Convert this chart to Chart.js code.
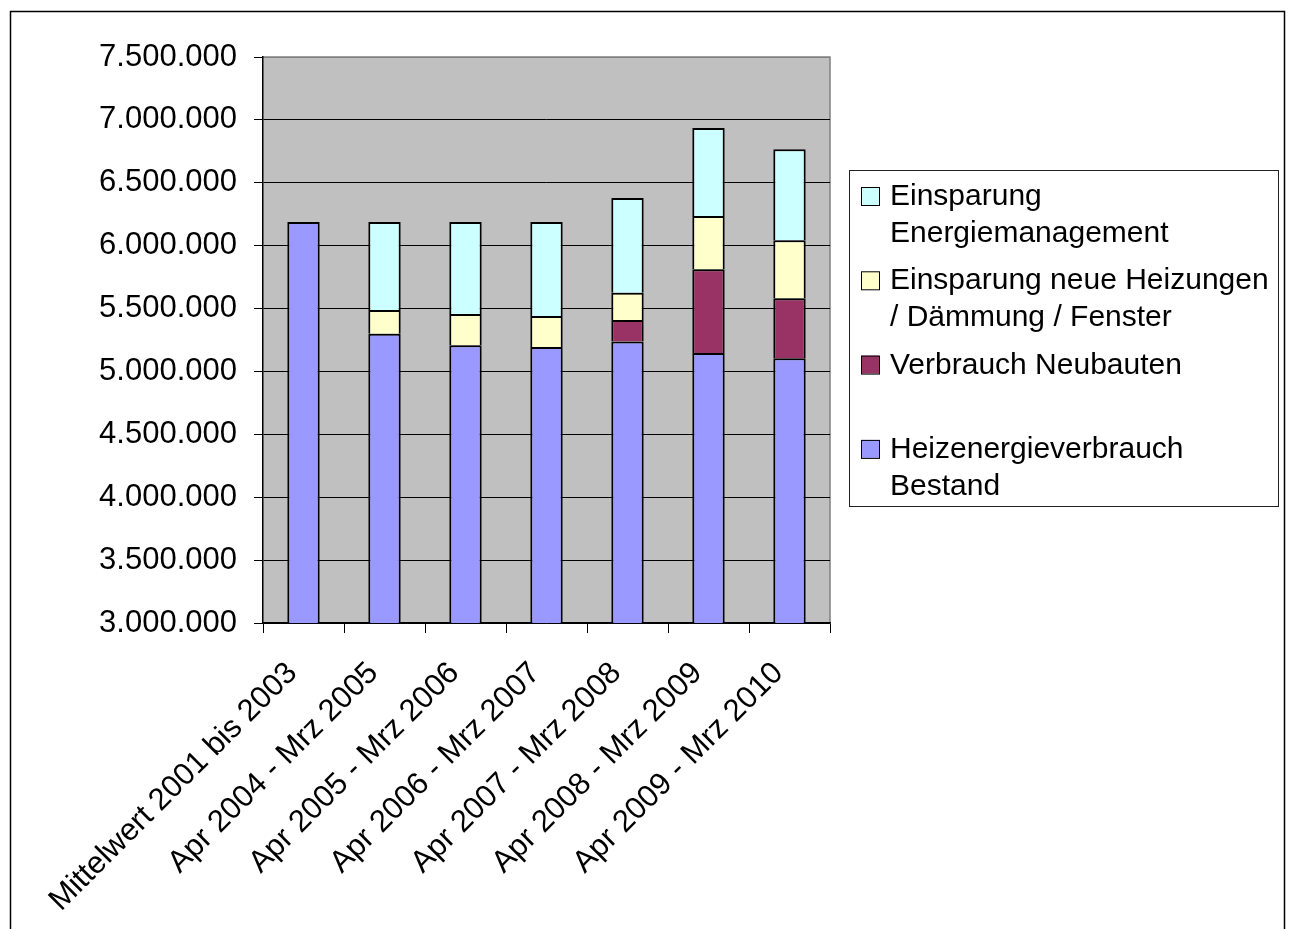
<!DOCTYPE html>
<html>
<head>
<meta charset="utf-8">
<title>Heizenergieverbrauch</title>
<script src="https://cdn.jsdelivr.net/npm/chart.js@4.4.0/dist/chart.umd.min.js"></script>
<style>
  html, body { margin: 0; padding: 0; background: #fff; }
  #wrap { position: relative; width: 1290px; height: 929px; }
</style>
</head>
<body>
<div id="wrap"><canvas id="heizChart" width="1290" height="929"></canvas></div>
<script>
// Zeiträume (x-Achse)
const categories = [
  'Mittelwert 2001 bis 2003',
  'Apr 2004 - Mrz 2005',
  'Apr 2005 - Mrz 2006',
  'Apr 2006 - Mrz 2007',
  'Apr 2007 - Mrz 2008',
  'Apr 2008 - Mrz 2009',
  'Apr 2009 - Mrz 2010'
];

// Werte je Reihe (kWh), von unten nach oben gestapelt
const bestand           = [6188000, 5300000, 5209000, 5194000, 5238000, 5146000, 5104000];
const neubauten         = [null, null, null, null, 171000, 667000, 477000];
const heizungen         = [null, 189000, 248000, 247000, 216000, 422000, 463000];
const energiemanagement = [null, 699000, 731000, 747000, 753000, 701000, 722000];

// Legendentexte (mehrzeilig wie im Original)
const labelBestand    = ['Heizenergieverbrauch', 'Bestand'];
const labelNeubauten  = ['Verbrauch Neubauten'];
const labelHeizungen  = ['Einsparung neue Heizungen', '/ Dämmung / Fenster'];
const labelManagement = ['Einsparung', 'Energiemanagement'];

// y-Achse
const yMin  = 3000000;
const yMax  = 7500000;
const yStep = 500000;

const FONT = "'Liberation Sans', Arial, sans-serif";
const FONT_SIZE = 30;
const AXIS_FONT_SIZE = 31;

function formatDots(v) {
  return String(v).replace(/\B(?=(\d{3})+(?!\d))/g, '.');
}

// grey plot area + outer frame
const frameAndBackground = {
  id: 'frameAndBackground',
  beforeDraw(chart) {
    const { ctx, chartArea: a } = chart;
    ctx.save();
    ctx.fillStyle = '#fff';
    ctx.fillRect(0, 0, chart.width, chart.height);
    ctx.strokeStyle = '#000';
    ctx.lineWidth = 1.5;
    ctx.strokeRect(10.5, 11.5, 1274, 940);
    ctx.fillStyle = '#C0C0C0';
    ctx.fillRect(a.left, a.top, a.right - a.left, a.bottom - a.top);
    ctx.strokeStyle = '#808080';
    ctx.lineWidth = 1.5;
    ctx.beginPath();
    ctx.moveTo(a.left, a.top);
    ctx.lineTo(a.right, a.top);
    ctx.lineTo(a.right, a.bottom);
    ctx.stroke();
    ctx.restore();
  }
};

// boxed legend with wrapped entries, top series first
const boxLegend = {
  id: 'boxLegend',
  afterDraw(chart) {
    const { ctx } = chart;
    const datasets = chart.data.datasets.slice().reverse();
    ctx.save();
    ctx.strokeStyle = '#222';
    ctx.lineWidth = 1;
    ctx.strokeRect(849.5, 170.5, 429, 336);
    ctx.font = FONT_SIZE + 'px ' + FONT;
    ctx.textBaseline = 'alphabetic';
    ctx.textAlign = 'left';
    datasets.forEach((ds, i) => {
      const base = 205 + i * 84.3;
      ctx.fillStyle = ds.backgroundColor;
      ctx.fillRect(861, base - 18, 18, 18);
      ctx.strokeStyle = '#000';
      ctx.strokeRect(861.5, base - 17.5, 18, 18);
      ctx.fillStyle = '#000';
      ds.lines.forEach((line, j) => {
        ctx.fillText(line, 890, base + j * 37);
      });
    });
    ctx.restore();
  }
};

function series(lines, data, color) {
  return {
    label: lines.join(' '),
    lines: lines,
    data: data,
    backgroundColor: color,
    borderColor: '#000',
    // one shared 2px edge between stacked segments
    borderWidth: { top: 2, left: 2, right: 2, bottom: 0 },
    borderSkipped: false,
    categoryPercentage: 1.0,
    barPercentage: 0.4
  };
}

new Chart(document.getElementById('heizChart'), {
  type: 'bar',
  data: {
    labels: categories,
    datasets: [
      series(labelBestand, bestand, '#9999FF'),
      series(labelNeubauten, neubauten, '#993366'),
      series(labelHeizungen, heizungen, '#FFFFCC'),
      series(labelManagement, energiemanagement, '#CCFFFF')
    ]
  },
  options: {
    responsive: false,
    animation: false,
    devicePixelRatio: 1,
    layout: { padding: { left: 12, top: 57, right: 460, bottom: 0 } },
    plugins: {
      legend: { display: false },
      tooltip: { enabled: false }
    },
    scales: {
      x: {
        stacked: true,
        grid: {
          offset: true,
          drawOnChartArea: false,
          color: '#000',
          tickColor: '#000',
          tickLength: 10
        },
        border: { color: '#000', width: 1.5 },
        ticks: {
          color: '#000',
          font: { family: FONT, size: AXIS_FONT_SIZE },
          minRotation: 45,
          maxRotation: 45,
          autoSkip: false,
          padding: 22,
          labelOffset: -11
        },
        afterFit(scale) { scale.height = 306; }
      },
      y: {
        stacked: true,
        min: yMin,
        max: yMax,
        grid: {
          color: ctx => (ctx.tick && ctx.tick.value === yMax) ? '#808080' : '#000',
          tickColor: '#000',
          tickLength: 9,
          lineWidth: 1
        },
        border: { color: '#000', width: 1.5 },
        ticks: {
          stepSize: yStep,
          color: '#000',
          font: { family: FONT, size: AXIS_FONT_SIZE },
          padding: 17,
          callback: v => formatDots(v)
        },
        afterFit(scale) { scale.width = 251; }
      }
    }
  },
  plugins: [frameAndBackground, boxLegend]
});
</script>
</body>
</html>
